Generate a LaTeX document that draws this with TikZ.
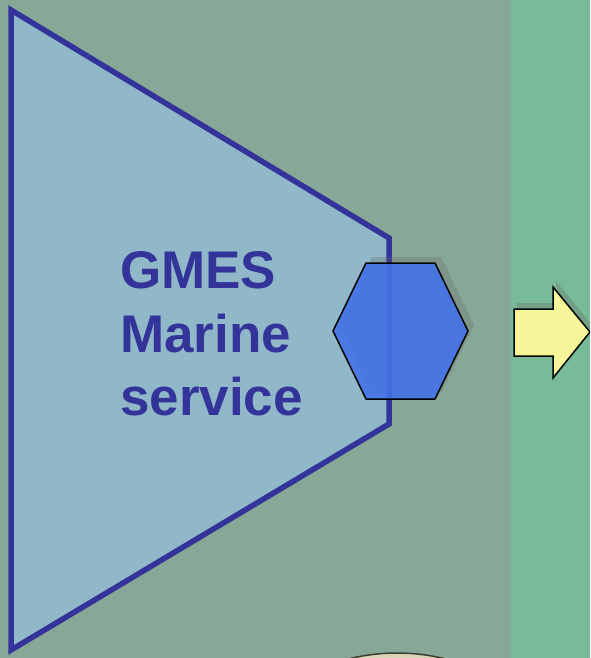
\documentclass[tikz,border=0pt]{standalone}
\usepackage{fontspec}
\setmainfont{Liberation Sans}
\definecolor{bgleft}{HTML}{87A897}
\definecolor{bgright}{HTML}{78BB98}
\definecolor{trapfill}{HTML}{90B8C8}
\definecolor{navy}{HTML}{33339A}
\definecolor{hexfill}{HTML}{4272EA}
\definecolor{arrowfill}{HTML}{F5F59A}
\definecolor{globefill}{HTML}{D8D4B8}
\definecolor{globeedge}{HTML}{3A4030}
\tikzset{
  shadowshape/.style={fill=black!60, fill opacity=0.3, draw=none},
  labeltext/.style={font=\fontsize{53}{63}\selectfont\bfseries, text=navy, inner sep=0pt, anchor=base west},
}
\begin{document}
\begin{tikzpicture}[x=1pt,y=-1pt]
\useasboundingbox (0,0) rectangle (590,658);
\clip (0,0) rectangle (590,658);
% background
\fill[bgleft] (0,0) rectangle (511,658);
\fill[bgright] (511,0) rectangle (590,658);
% bottom globe edge
\draw[globeedge, fill=globefill, line width=1.5pt] (397,853) circle (200);
% trapezoid
\draw[navy, fill=trapfill, line width=5.5pt, line join=miter]
  (11,10) -- (389,238) -- (389,424) -- (11,650) -- cycle;
% text
\node[labeltext] (t1) at (120,288) {GMES};
\node[labeltext] (t2) at (120,352) {Marine};
\node[labeltext] (t3) at (120,415) {service};
% hexagon shadow
\fill[shadowshape, shift={(6,-6)}]
  (333,331) -- (366,263) -- (435,263) -- (468,331) -- (435,399) -- (366,399) -- cycle;
% hexagon
\draw[black, line width=1.5pt, fill=hexfill, fill opacity=0.88, line join=miter]
  (333,331) -- (366,263) -- (435,263) -- (468,331) -- (435,399) -- (366,399) -- cycle;
% arrow shadow
\fill[shadowshape, shift={(3,-6)}]
  (514,309) -- (553,309) -- (553,287) -- (590,332) -- (553,378) -- (553,356) -- (514,356) -- cycle;
% arrow
\draw[black, line width=1.5pt, fill=arrowfill, line join=miter]
  (514,309) -- (553,309) -- (553,287) -- (590,332) -- (553,378) -- (553,356) -- (514,356) -- cycle;
\end{tikzpicture}
\end{document}
